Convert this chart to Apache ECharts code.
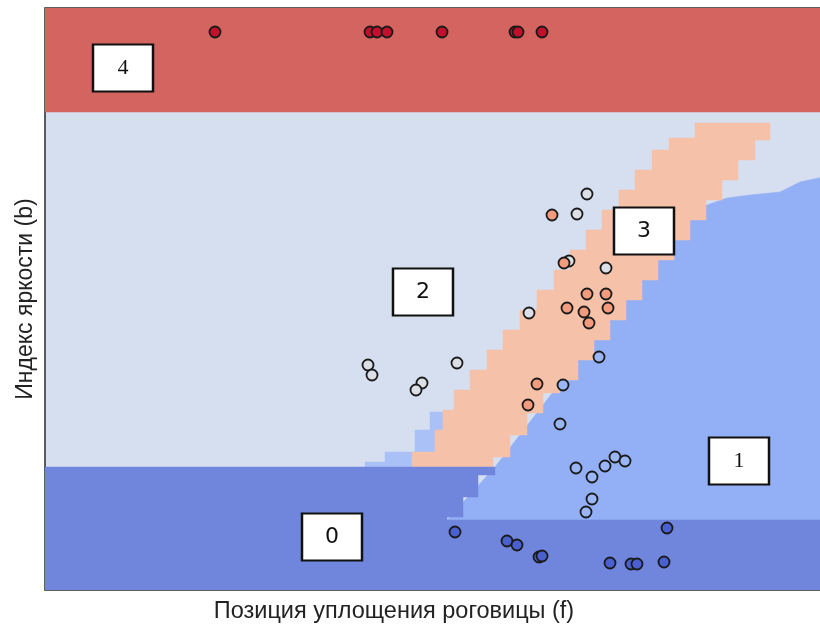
<!DOCTYPE html>
<html>
<head>
<meta charset="utf-8">
<script src="https://cdn.jsdelivr.net/npm/echarts@6/dist/echarts.min.js"></script>
<style>html,body{margin:0;padding:0;background:#fff;}#c{width:820px;height:624px;}</style>
</head>
<body>
<div id="c"></div>
<script>
// ---- data (abstract feature units) ----
const X_MAX = 15.56, Y_MAX = 11.64;
const xName = 'Позиция уплощения роговицы (f)';
const yName = 'Индекс яркости (b)';

// decision regions (polygon vertices)
const region4Poly = [[0,9.56],[X_MAX,9.56],[X_MAX,Y_MAX],[0,Y_MAX]];
const region1Poly = [[8.04,1.40],[X_MAX,1.40],[X_MAX,8.26],[15.1,8.16],[14.7,7.96],[14.1,7.90],[13.64,7.84],[13.24,7.70],[12.9,7.5],[9.0,2.46]];
const region1BitsPoly = [[6.4,2.46],[6.4,2.56],[6.8,2.56],[6.8,2.76],[7.4,2.76],[7.4,3.20],[7.7,3.20],[7.7,3.56],[8.0,3.56],[8.0,2.46]];
const band3Poly = [
  [7.34,2.46],[7.34,2.76],[7.80,2.76],[7.80,3.20],[7.96,3.20],[7.96,3.60],[8.18,3.60],[8.18,4.00],
  [8.50,4.00],[8.50,4.40],[8.84,4.40],[8.84,4.80],[9.16,4.80],[9.16,5.20],[9.50,5.20],[9.50,5.60],
  [9.84,5.60],[9.84,6.00],[10.18,6.00],[10.18,6.40],[10.50,6.40],[10.50,6.80],[10.82,6.80],[10.82,7.20],
  [11.14,7.20],[11.14,7.60],[11.48,7.60],[11.48,8.00],[11.80,8.00],[11.80,8.40],[12.14,8.40],[12.14,8.80],
  [12.48,8.80],[12.48,9.04],[13.0,9.04],[13.0,9.34],[14.5,9.34],
  [14.5,9.0],[14.2,9.0],[14.2,8.6],[13.86,8.6],[13.86,8.2],[13.54,8.2],[13.54,7.8],[13.22,7.8],[13.22,7.4],
  [12.9,7.4],[12.9,7.0],[12.58,7.0],[12.58,6.6],[12.26,6.6],[12.26,6.2],[11.94,6.2],[11.94,5.8],
  [11.62,5.8],[11.62,5.4],[11.30,5.4],[11.30,5.0],[10.98,5.0],[10.98,4.6],[10.66,4.6],[10.66,4.2],
  [10.30,4.2],[10.30,3.94],[9.96,3.94],[9.96,3.54],[9.64,3.54],[9.64,3.10],[9.30,3.10],[9.30,2.66],
  [8.96,2.66],[8.96,2.46]
];
const region0Poly = [[0,0],[X_MAX,0],[X_MAX,1.40],[8.04,1.40],[8.04,1.46],[8.36,1.46],[8.36,1.86],[8.66,1.86],[8.66,2.30],[9.0,2.30],[9.0,2.46],[0,2.46]];

// observed points per class
const class0 = [[8.20,1.16],[9.24,0.98],[9.44,0.90],[9.88,0.66],[9.94,0.68],[11.30,0.54],[11.72,0.52],[11.84,0.52],[12.38,0.56],[12.44,1.24]];
const class1 = [[11.08,4.66],[10.36,4.10],[10.30,3.32],[10.62,2.44],[10.94,2.26],[11.20,2.48],[11.40,2.66],[11.60,2.58],[10.94,1.82],[10.82,1.56]];
const class2 = [[10.84,7.92],[10.64,7.52],[10.48,6.58],[11.22,6.44],[9.68,5.54],[6.46,4.50],[6.54,4.30],[8.24,4.54],[7.54,4.14],[7.42,4.00]];
const class3 = [[10.14,7.50],[10.38,6.54],[10.84,5.92],[11.22,5.92],[10.44,5.64],[11.26,5.64],[10.78,5.56],[10.88,5.34],[9.84,4.12],[9.66,3.70]];
const class4 = [[3.40,11.16],[6.50,11.16],[6.64,11.16],[6.84,11.16],[7.94,11.16],[9.40,11.16],[9.46,11.16],[9.94,11.16]];

// region label boxes
const boxLabels = ['4','2','3','1','0'];
const boxX = [1.56,7.56,11.98,13.88,5.74];
const boxY = [10.44,5.96,7.18,2.58,1.06];
const boxFonts = ['Liberation Serif','DejaVu Sans','DejaVu Sans','Liberation Serif','DejaVu Sans'];

// ---- chart ----
const polys = [
  {pts: region1Poly, color: '#93aff5'},
  {pts: region1BitsPoly, color: '#a9c1f7'},
  {pts: band3Poly, color: '#f5c1a8'},
  {pts: region0Poly, color: '#7086dd'},
  {pts: region4Poly, color: '#d3645f'}
];

function pointSeries(data, fill) {
  return {
    type: 'scatter', data: data, symbol: 'circle', symbolSize: 11,
    itemStyle: {color: fill, borderColor: '#1a1a1a', borderWidth: 1.8, opacity: 1},
    z: 5, silent: true
  };
}

const chart = echarts.init(document.getElementById('c'), null, {renderer: 'canvas'});
chart.setOption({
  animation: false,
  backgroundColor: '#ffffff',
  grid: {left: 45, top: 8, width: 778, height: 582, outerBoundsMode: 'none', containLabel: false,
         show: true, backgroundColor: '#d6dfef', borderColor: '#2a2a2a', borderWidth: 1.5},
  xAxis: {
    type: 'value', min: 0, max: X_MAX,
    axisLine: {show: false}, axisTick: {show: false}, axisLabel: {show: false}, splitLine: {show: false},
    name: xName, nameLocation: 'middle', nameGap: 10,
    nameTextStyle: {fontFamily: 'Liberation Sans', fontSize: 23.5, color: '#222', padding: [0, 80, 0, 0]}
  },
  yAxis: {
    type: 'value', min: 0, max: Y_MAX,
    axisLine: {show: false}, axisTick: {show: false}, axisLabel: {show: false}, splitLine: {show: false},
    name: yName, nameLocation: 'middle', nameGap: 8,
    nameTextStyle: {fontFamily: 'Liberation Sans', fontSize: 23, color: '#222'}
  },
  series: [
    {
      type: 'custom', clip: true, silent: true, z: 1,
      data: polys.map((p, i) => [i]),
      encode: {x: -1, y: -1},
      renderItem: function (params, api) {
        const p = polys[params.dataIndex];
        return {
          type: 'polygon',
          shape: {points: p.pts.map(v => api.coord(v))},
          style: {fill: p.color, stroke: p.color, lineWidth: 0.5}
        };
      }
    },
    {
      type: 'scatter', z: 4, silent: true, symbol: 'rect', symbolSize: [60, 47],
      data: boxLabels.map((t, i) => ({
        value: [boxX[i], boxY[i]], name: t,
        label: {show: true, position: 'inside', formatter: t, fontFamily: boxFonts[i], fontSize: 22, color: '#111'}
      })),
      itemStyle: {color: '#ffffff', borderColor: '#111', borderWidth: 2.2, opacity: 1}
    },
    pointSeries(class0, '#4a60cf'),
    pointSeries(class1, '#9ab6f6'),
    pointSeries(class2, '#dcdfe6'),
    pointSeries(class3, '#f39b7d'),
    pointSeries(class4, '#c20f2b')
  ]
});
</script>
</body>
</html>
